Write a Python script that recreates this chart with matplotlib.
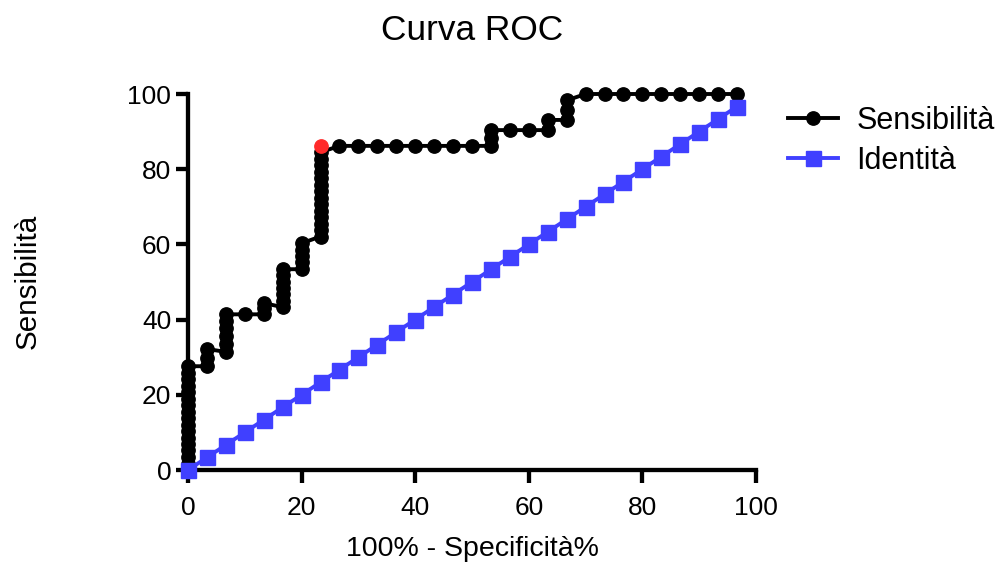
import matplotlib
matplotlib.use('Agg')
import matplotlib.pyplot as plt

plt.rcParams['font.family'] = ['Liberation Sans', 'DejaVu Sans']

# ---- data ----
sens_x = [0, 0, 0, 0, 0, 0, 0, 0, 0, 0, 0, 0, 0, 0, 0, 0, 0,
          3.33, 3.33, 3.33,
          6.67, 6.67, 6.67, 6.67, 6.67, 6.67,
          10.0,
          13.33, 13.33, 13.33,
          16.67, 16.67, 16.67, 16.67, 16.67, 16.67, 16.67,
          20.0, 20.0, 20.0, 20.0, 20.0,
          23.33, 23.33, 23.33, 23.33, 23.33, 23.33, 23.33, 23.33, 23.33, 23.33, 23.33, 23.33, 23.33, 23.33,
          26.67, 30.0, 33.33, 36.67, 40.0, 43.33, 46.67, 50.0,
          53.33, 53.33, 53.33,
          56.67, 60.0,
          63.33, 63.33,
          66.67, 66.67, 66.67,
          70.0, 73.33, 76.67, 80.0, 83.33, 86.67, 90.0, 93.33, 96.67]
sens_y = [0.0, 1.7, 3.4, 5.2, 6.9, 8.6, 10.3, 12.1, 13.8, 15.5, 17.2, 19.0, 20.7, 22.4, 24.1, 25.9, 27.6,
          27.6, 29.9, 32.2,
          31.4, 33.5, 35.6, 37.7, 39.7, 41.4,
          41.4,
          41.4, 43.1, 44.4,
          43.3, 45.0, 46.7, 48.4, 50.1, 51.8, 53.4,
          53.4, 55.2, 56.9, 58.6, 60.3,
          62.1, 63.8, 65.5, 67.2, 69.0, 70.7, 72.4, 74.1, 75.9, 77.6, 79.3, 81.0, 82.8, 84.5,
          86.2, 86.2, 86.2, 86.2, 86.2, 86.2, 86.2, 86.2,
          86.2, 88.3, 90.4,
          90.4, 90.4,
          90.4, 93.1,
          93.1, 95.7, 98.3,
          100, 100, 100, 100, 100, 100, 100, 100, 100]

# optimal cutoff point (highlighted in red)
cut_x = [23.33]
cut_y = [86.2]

ident_x = [0, 3.33, 6.67, 10, 13.33, 16.67, 20, 23.33, 26.67, 30, 33.33, 36.67, 40, 43.33, 46.67,
           50, 53.33, 56.67, 60, 63.33, 66.67, 70, 73.33, 76.67, 80, 83.33, 86.67, 90, 93.33, 96.67]
ident_y = [0, 3.33, 6.67, 10, 13.33, 16.67, 20, 23.33, 26.67, 30, 33.33, 36.67, 40, 43.33, 46.67,
           50, 53.33, 56.67, 60, 63.33, 66.67, 70, 73.33, 76.67, 80, 83.33, 86.67, 90, 93.33, 96.67]

xticks = [0, 20, 40, 60, 80, 100]
yticks = [0, 20, 40, 60, 80, 100]

title = 'Curva ROC'
xlabel = '100% - Specificità%'
ylabel = 'Sensibilità'
labels = ['Sensibilità', 'Identità']

# ---- figure ----
W, H = 1001, 565
fig = plt.figure(figsize=(W / 100, H / 100), dpi=100)
ax = fig.add_axes([188 / W, (H - 470) / H, 568 / W, 376 / H])

l1, = ax.plot(sens_x, sens_y, color='black', lw=2.8, marker='o', ms=9.6,
              clip_on=False, zorder=3, label=labels[0])
l2, = ax.plot(ident_x, ident_y, color='#4040FF', lw=2.8, marker='s', ms=10.8,
              clip_on=False, zorder=4, label=labels[1])
ax.plot(cut_x, cut_y, linestyle='none', marker='o', ms=9.6, color='#FF2A2A',
        clip_on=False, zorder=5)

ax.set_xlim(0, 100)
ax.set_ylim(0, 100)
ax.set_xticks(xticks)
ax.set_yticks(yticks)
for s in ['top', 'right']:
    ax.spines[s].set_visible(False)
for s in ['left', 'bottom']:
    ax.spines[s].set_linewidth(3.1)
    ax.spines[s].set_capstyle('projecting')
ax.tick_params(direction='out', length=9, width=3.1, labelsize=19, colors='black')
ax.tick_params(axis='x', pad=10)
ax.tick_params(axis='y', pad=3)

fig.text(472 / W, 1 - 31 / H, title, ha='center', va='center', fontsize=25.4)
fig.text(472 / W, 1 - 556 / H, xlabel, ha='center', va='baseline', fontsize=20.5)
fig.text(28 / W, 1 - 281 / H, ylabel, ha='center', va='center', rotation=90, fontsize=21.3)

fig.legend(handles=[l1, l2], loc='center left', bbox_to_anchor=(788 / W, 1 - 141 / H),
           bbox_transform=fig.transFigure, frameon=False, fontsize=22, numpoints=1,
           handlelength=1.63, handletextpad=0.6, labelspacing=0.32, borderpad=0,
           borderaxespad=0)

fig.savefig('out.png', dpi=100)
